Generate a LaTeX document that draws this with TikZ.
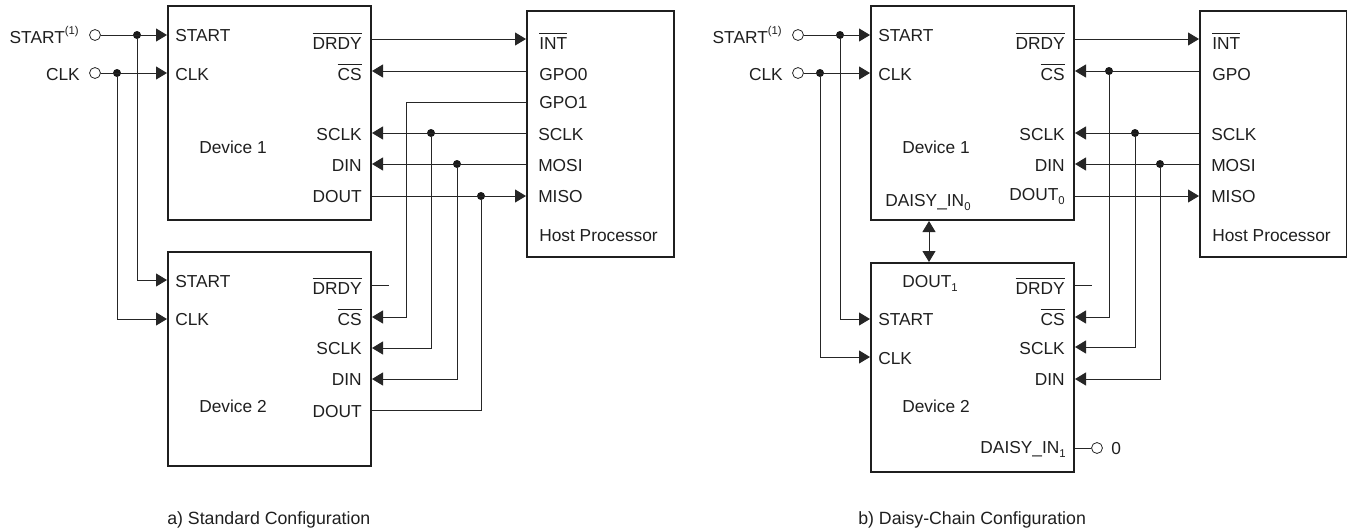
\documentclass[tikz,border=0pt]{standalone}
\usepackage{fontspec}
\setmainfont{Liberation Sans}
\usetikzlibrary{arrows.meta}
\newcommand{\ovl}[1]{\vbox{\hrule height 0.9pt\kern2.2pt\hbox{#1}}}
\newcommand{\subs}[1]{\raisebox{-3.6pt}{\fontsize{8.5pt}{9pt}\selectfont #1}}
\newcommand{\sups}[1]{\raisebox{6.4pt}{\fontsize{8.5pt}{9pt}\selectfont #1}}
\tikzset{
  x=0.75pt,y=-0.75pt,
  devbox/.style={draw=black!88,line width=1.5pt,fill=none,inner sep=0pt,anchor=north west,minimum width=152.25pt},
  hostbox/.style={devbox,minimum width=110.25pt,minimum height=184.5pt},
  wire/.style={draw=black!85,line width=0.75pt},
  into/.style={wire,-{Triangle[length=8.25pt,width=9.75pt]}},
  both/.style={wire,{Triangle[length=8.25pt,width=9.75pt]}-{Triangle[length=8.25pt,width=9.75pt]}},
  dot/.style={circle,fill=black!90,draw=none,inner sep=0pt,minimum size=6pt},
  hollow/.style={circle,fill=white,draw=black!85,line width=0.6pt,inner sep=0pt,minimum size=8.2pt},
  lab/.style={font=\fontsize{13pt}{14pt}\selectfont,text=black!88,inner sep=0pt},
  pinl/.style={lab,anchor=base west},
  pinr/.style={lab,anchor=base east},
  capt/.style={font=\fontsize{13.3pt}{14pt}\selectfont,text=black!88,inner sep=0pt,anchor=base west},
}
\begin{document}
\begin{tikzpicture}
\useasboundingbox (0,0) rectangle (1347,529);
% ---------- a) boxes
\node[devbox,minimum height=160.5pt] (aD1) at (167,5) {};
\node[devbox,minimum height=160.5pt] (aD2) at (167,251) {};
\node[hostbox] (aH) at (526,10) {};
% external a
\node[lab,anchor=base east] (aSs) at (79,43) {START\sups{(1)}};
\node[lab,anchor=base east] (aCs) at (80,80) {CLK};
\node[hollow] (aSo) at (95,35) {};
\node[hollow] (aCo) at (95,73) {};
% device 1 a
\node[pinl] (a1St) at (175,41) {START};
\node[pinl] (a1Ck) at (175,80) {CLK};
\node[pinr] (a1Dr) at (362,49) {\ovl{DRDY}};
\node[pinr] (a1Cs) at (362,80) {\ovl{CS}};
\node[pinr] (a1Sc) at (362,140) {SCLK};
\node[pinr] (a1Di) at (362,171) {DIN};
\node[pinr] (a1Do) at (362,202) {DOUT};
\node[pinl] (a1N) at (199,153) {Device 1};
% device 2 a
\node[pinl] (a2St) at (175,287) {START};
\node[pinl] (a2Ck) at (175,325) {CLK};
\node[pinr] (a2Dr) at (362,294) {\ovl{DRDY}};
\node[pinr] (a2Cs) at (362,325) {\ovl{CS}};
\node[pinr] (a2Sc) at (362,354) {SCLK};
\node[pinr] (a2Di) at (362,385) {DIN};
\node[pinr] (a2Do) at (362,417) {DOUT};
\node[pinl] (a2N) at (199,412) {Device 2};
% host a
\node[pinl] (aHi) at (539,49) {\ovl{INT}};
\node[pinl] (aH0) at (539,80) {GPO0};
\node[pinl] (aH1) at (539,108) {GPO1};
\node[pinl] (aHs) at (538,140) {SCLK};
\node[pinl] (aHm) at (538,171) {MOSI};
\node[pinl] (aHo) at (538,202) {MISO};
\node[pinl] (aHn) at (539,241) {Host Processor};
\node[capt] (aCap) at (167,524) {a) Standard Configuration};
% junctions a
\node[dot] (aJs) at (137,35) {};
\node[dot] (aJc) at (117,73) {};
\node[dot] (aJk) at (431,133) {};
\node[dot] (aJd) at (457,164) {};
\node[dot] (aJo) at (481,196) {};
\coordinate (aE) at (389,285);
% wires a
\draw[into] (aSo) -- (aSo -| aD1.west);
\draw[into] (aCo) -- (aCo -| aD1.west);
\draw[into] (aJs) |- (aD2.west |- 0,280);
\draw[into] (aJc) |- (aD2.west |- 0,319);
\draw[into] (aD1.east |- 0,39) -- (aH.west |- 0,39);
\draw[into] (aH.west |- 0,71) -- (aD1.east |- 0,71);
\draw[into] (aH.west |- 0,102) -- (406,102) |- (aD2.east |- 0,317);
\draw[into] (aH.west |- 0,133) -- (aD1.east |- 0,133);
\draw[into] (aH.west |- 0,164) -- (aD1.east |- 0,164);
\draw[into] (aD1.east |- 0,196) -- (aH.west |- 0,196);
\draw[into] (aJk) |- (aD2.east |- 0,348);
\draw[into] (aJd) |- (aD2.east |- 0,379);
\draw[wire] (aJo) |- (aD2.east |- 0,410);
\draw[wire] (aD2.east |- aE) -- (aE);
% ---------- b) boxes
\node[devbox,minimum height=160.5pt] (bD1) at (870,5) {};
\node[devbox,minimum height=156.75pt] (bD2) at (870,262) {};
\node[hostbox] (bH) at (1199,10) {};
% external b
\node[lab,anchor=base east] (bSs) at (782,43) {START\sups{(1)}};
\node[lab,anchor=base east] (bCs) at (783,80) {CLK};
\node[hollow] (bSo) at (798,35) {};
\node[hollow] (bCo) at (798,73) {};
% device 1 b
\node[pinl] (b1St) at (878,41) {START};
\node[pinl] (b1Ck) at (878,80) {CLK};
\node[pinr] (b1Dr) at (1065,49) {\ovl{DRDY}};
\node[pinr] (b1Cs) at (1065,80) {\ovl{CS}};
\node[pinr] (b1Sc) at (1065,140) {SCLK};
\node[pinr] (b1Di) at (1065,171) {DIN};
\node[pinr] (b1Do) at (1065,200) {DOUT\subs{0}};
\node[pinl] (b1N) at (902,153) {Device 1};
\node[pinl] (b1Da) at (885,206) {DAISY\_IN\subs{0}};
% device 2 b
\node[pinl] (b2Do) at (902,287) {DOUT\subs{1}};
\node[pinl] (b2St) at (878,325) {START};
\node[pinl] (b2Ck) at (878,364) {CLK};
\node[pinr] (b2Dr) at (1065,294) {\ovl{DRDY}};
\node[pinr] (b2Cs) at (1065,325) {\ovl{CS}};
\node[pinr] (b2Sc) at (1065,354) {SCLK};
\node[pinr] (b2Di) at (1065,385) {DIN};
\node[pinl] (b2N) at (902,412) {Device 2};
\node[pinr] (b2Da) at (1066,453) {DAISY\_IN\subs{1}};
\node[hollow] (bZo) at (1097,448) {};
\node[pinl] (bZ) at (1111,454) {0};
% host b
\node[pinl] (bHi) at (1212,49) {\ovl{INT}};
\node[pinl] (bH0) at (1212,80) {GPO};
\node[pinl] (bHs) at (1211,140) {SCLK};
\node[pinl] (bHm) at (1211,171) {MOSI};
\node[pinl] (bHo) at (1211,202) {MISO};
\node[pinl] (bHn) at (1212,241) {Host Processor};
\node[capt] (bCap) at (858,524) {b) Daisy-Chain Configuration};
% junctions b
\node[dot] (bJs) at (840,35) {};
\node[dot] (bJc) at (820,73) {};
\node[dot] (bJg) at (1109,71) {};
\node[dot] (bJk) at (1135,133) {};
\node[dot] (bJd) at (1160,164) {};
\coordinate (bE) at (1092,285);
% wires b
\draw[into] (bSo) -- (bSo -| bD1.west);
\draw[into] (bCo) -- (bCo -| bD1.west);
\draw[into] (bJs) |- (bD2.west |- 0,319);
\draw[into] (bJc) |- (bD2.west |- 0,357);
\draw[into] (bD1.east |- 0,39) -- (bH.west |- 0,39);
\draw[into] (bH.west |- 0,71) -- (bD1.east |- 0,71);
\draw[into] (bH.west |- 0,133) -- (bD1.east |- 0,133);
\draw[into] (bH.west |- 0,164) -- (bD1.east |- 0,164);
\draw[into] (bD1.east |- 0,196) -- (bH.west |- 0,196);
\draw[into] (bJg) |- (bD2.east |- 0,317);
\draw[into] (bJk) |- (bD2.east |- 0,347);
\draw[into] (bJd) |- (bD2.east |- 0,379);
\draw[wire] (bD2.east |- bE) -- (bE);
\draw[wire] (bD2.east |- bZo) -- (bZo);
\draw[both] (bD1.south -| 929,0) -- (bD2.north -| 929,0);
\end{tikzpicture}
\end{document}
